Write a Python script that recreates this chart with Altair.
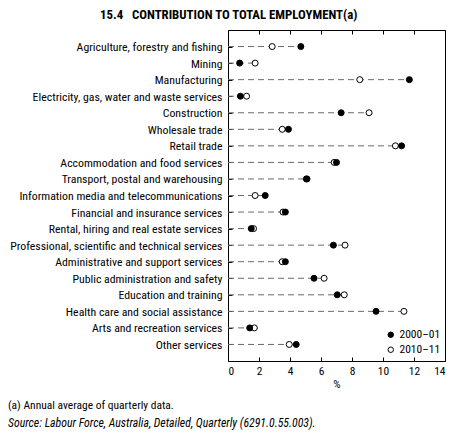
import altair as alt
import pandas as pd

categories = [
    "Agriculture, forestry and fishing", "Mining", "Manufacturing",
    "Electricity, gas, water and waste services", "Construction",
    "Wholesale trade", "Retail trade", "Accommodation and food services",
    "Transport, postal and warehousing", "Information media and telecommunications",
    "Financial and insurance services", "Rental, hiring and real estate services",
    "Professional, scientific and technical services",
    "Administrative and support services", "Public administration and safety",
    "Education and training", "Health care and social assistance",
    "Arts and recreation services", "Other services",
]
v2000 = [4.7, 0.75, 11.7, 0.8, 7.3, 3.9, 11.2, 7.0, 5.1, 2.4, 3.7, 1.5, 6.8, 3.7, 5.55, 7.05, 9.55, 1.4, 4.4]
v2010 = [2.85, 1.75, 8.5, 1.2, 9.1, 3.5, 10.8, 6.85, 5.05, 1.75, 3.55, 1.65, 7.55, 3.5, 6.2, 7.5, 11.35, 1.7, 3.95]
series = ["2000\u201301", "2010\u201311"]
footnotes = ["(a) Annual average of quarterly data.",
             "Source: Labour Force, Australia, Detailed, Quarterly (6291.0.55.003)."]

FONT = "Roboto Condensed, Liberation Sans, Arial"
W, H = 217, 331

wide = pd.DataFrame({"cat": categories, "a": v2000, "b": v2010})
wide["zero"] = 0.0
wide["mx"] = wide[["a", "b"]].max(axis=1)

long = pd.concat([
    pd.DataFrame({"cat": categories, "val": v2010, "series": series[1], "ord": 0}),
    pd.DataFrame({"cat": categories, "val": v2000, "series": series[0], "ord": 1}),
], ignore_index=True)

xscale = alt.Scale(domain=[0, 14], nice=False, zero=True)
yscale = alt.Scale(type="point", padding=1, domain=categories)

rules = alt.Chart(wide).mark_rule(color="#6a6a6a", strokeDash=[6, 4], strokeWidth=1).encode(
    x=alt.X("zero:Q", scale=xscale, title="%",
            axis=alt.Axis(orient="bottom", values=list(range(0, 15, 2)), ticks=False,
                          domain=True, grid=False, labelPadding=4, titlePadding=2)),
    x2="mx:Q",
    y=alt.Y("cat:N", scale=yscale, title=None,
            axis=alt.Axis(orient="left", ticks=False, domain=False, labelPadding=6,
                          labelLimit=300, labelFontSize=11.8)),
)

points = alt.Chart(long).mark_point(shape="circle", filled=True, size=36,
                                    stroke="black", strokeWidth=1, opacity=1).encode(
    x=alt.X("val:Q", scale=xscale, title=None,
            axis=alt.Axis(orient="top", offset=-H, values=list(range(0, 15, 2)),
                          labels=False, domain=False, grid=False, tickSize=4)),
    y=alt.Y("cat:N", scale=yscale, title=None,
            axis=alt.Axis(orient="right", offset=-W, labels=False, domain=False, tickSize=4)),
    fill=alt.Fill("series:N", scale=alt.Scale(domain=series, range=["black", "white"]),
                  legend=alt.Legend(title=None, orient="none", legendX=157, legendY=299,
                                    symbolType="circle", symbolSize=30,
                                    symbolStrokeColor="black", symbolStrokeWidth=1,
                                    labelFontSize=11.5, labelFont=FONT, rowPadding=2,
                                    labelOffset=3, labelColor="black")),
    order="ord:Q",
)

topticks = alt.Chart(wide).mark_rule(opacity=0).encode(
    x=alt.X("zero:Q", scale=xscale, title=None,
            axis=alt.Axis(orient="bottom", offset=-H, values=list(range(0, 15, 2)),
                          labels=False, domain=False, grid=False, tickSize=4)),
    y=alt.Y("cat:N", scale=yscale, axis=None),
)

foot = alt.Chart(pd.DataFrame({"t": footnotes[:1]})).mark_text(
    align="left", baseline="middle", fontSize=11.5, font=FONT, color="black").encode(
    text="t:N", x=alt.value(-220), y=alt.value(376))
foot2 = alt.Chart(pd.DataFrame({"t": footnotes[1:]})).mark_text(
    align="left", baseline="middle", fontSize=11.8, font=FONT, fontStyle="italic",
    color="black").encode(
    text="t:N", x=alt.value(-220), y=alt.value(393))

chart = alt.layer(rules, points, topticks, foot, foot2).resolve_axis(
    x="independent", y="independent"
).properties(
    width=W, height=H,
    autosize=alt.AutoSizeParams(type="none"),
    padding={"left": 220, "top": 22, "right": 6, "bottom": 70},
    title=alt.Title("15.4\u00a0\u00a0\u00a0CONTRIBUTION TO TOTAL EMPLOYMENT(a)", anchor="start",
                    frame="group", dx=-128, fontSize=12.8, fontWeight="bold", font=FONT,
                    offset=8, color="black"),
).configure_view(stroke="black", strokeWidth=1).configure_axis(
    labelFont=FONT, titleFont=FONT, labelFontSize=11.5, titleFontSize=11.5,
    labelColor="black", titleColor="black", domainColor="black", tickColor="black",
    titleFontWeight="normal",
)

chart.save("out.html", embed_options={"renderer": "svg", "actions": False})
